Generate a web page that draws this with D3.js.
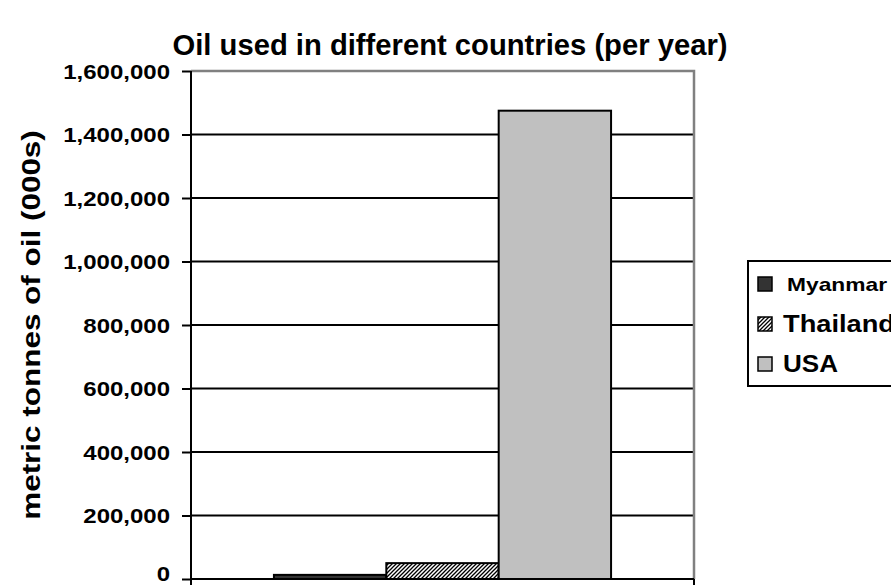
<!DOCTYPE html>
<html lang="en">
<head>
<meta charset="UTF-8" />
<title>Oil used in different countries</title>
<style>
	* { margin: 0; padding: 0; }
	body { background: #fff; font-family: 'Liberation Sans', Arial, sans-serif; }
	svg text { font-weight: bold; fill: #000; }
</style>
</head>
<body>
<svg id="chart" width="891" height="585"></svg>
<script src="https://cdnjs.cloudflare.com/ajax/libs/d3/7.8.5/d3.min.js"></script>
<script>
	// data (thousand metric tonnes per year)
	let countries = ['Myanmar', 'Thailand', 'USA'];
	let oilUsed = [13000, 50000, 1475000];
	let yTicks = [0, 200000, 400000, 600000, 800000, 1000000, 1200000, 1400000, 1600000];
	let category = [''];

	let svg = d3.select('#chart'),
		plotLeft = 191, plotRight = 694, plotTop = 71, plotBottom = 579;

	let y = d3.scaleLinear().domain([0, 1600000]).range([plotBottom, plotTop]);
	let x0 = d3.scaleBand().domain(category).range([plotLeft, plotRight]).paddingInner(0).paddingOuter(0.246);
	let x1 = d3.scaleBand().domain(countries).range([0, x0.bandwidth()]);

	// hatch for Thailand
	let defs = svg.append('defs');
	let pat = defs.append('pattern').attr('id', 'hatch')
		.attr('patternUnits', 'userSpaceOnUse').attr('width', 4).attr('height', 4);
	pat.append('rect').attr('width', 4).attr('height', 4).attr('fill', '#fff');
	pat.append('path').attr('d', 'M-1,1 l2,-2 M0,4 l4,-4 M3,5 l2,-2')
		.attr('stroke', '#000').attr('stroke-width', 1.3);

	let fills = { Myanmar: '#333333', Thailand: 'url(#hatch)', USA: '#c0c0c0' };

	// gridlines
	svg.append('g').selectAll('line')
		.data(yTicks.filter(d => d > 0 && d < 1600000))
		.enter().append('line')
		.attr('x1', plotLeft).attr('x2', plotRight)
		.attr('y1', d => y(d)).attr('y2', d => y(d))
		.attr('stroke', '#000').attr('stroke-width', 2);

	// grey top and right border of the plot area
	svg.append('path')
		.attr('d', `M${plotLeft},${y(1600000)} H${plotRight} V${plotBottom}`)
		.attr('fill', 'none').attr('stroke', '#808080').attr('stroke-width', 2.5);

	// bars
	svg.append('g').selectAll('rect')
		.data(countries)
		.enter().append('rect')
		.attr('x', (d) => x0('') + x1(d))
		.attr('width', x1.bandwidth())
		.attr('y', (d, i) => y(oilUsed[i]))
		.attr('height', (d, i) => y(0) - y(oilUsed[i]))
		.attr('fill', d => fills[d])
		.attr('stroke', '#000').attr('stroke-width', 2);

	// y axis
	let yAxis = svg.append('g')
		.attr('transform', `translate(${plotLeft},0)`)
		.call(d3.axisLeft(y).tickValues(yTicks).tickSize(9).tickFormat(d3.format(',')));
	yAxis.select('.domain').attr('stroke', '#000').attr('stroke-width', 2).attr('d', `M0,${plotTop}V${plotBottom + 6}`);
	yAxis.selectAll('.tick line').attr('stroke', '#000').attr('stroke-width', 2);
	yAxis.selectAll('.tick text')
		.style('font-family', "'Liberation Sans', Arial, sans-serif")
		.style('font-size', '20px').style('font-weight', 'bold')
		.attr('fill', '#000')
		.attr('transform', 'translate(-21,0) scale(1.2,1)')
		.attr('x', 0).attr('dy', d => d === 0 ? '0.05em' : '0.35em');

	// x axis line with category edge ticks
	svg.append('path')
		.attr('d', `M${plotLeft},${plotBottom}H${plotRight}M${plotRight},${plotBottom}v6`)
		.attr('fill', 'none').attr('stroke', '#000').attr('stroke-width', 2);

	// title
	svg.append('text')
		.attr('x', 450).attr('y', 55)
		.attr('text-anchor', 'middle')
		.style('font-size', '29px')
		.attr('textLength', 555).attr('lengthAdjust', 'spacingAndGlyphs')
		.text('Oil used in different countries (per year)');

	// y title
	svg.append('text')
		.attr('transform', 'translate(40,325) rotate(-90) scale(1.21,1)')
		.attr('text-anchor', 'middle')
		.style('font-size', '26px')
		.text('metric tonnes of oil (000s)');

	// legend
	let legend = svg.append('g');
	legend.append('rect')
		.attr('x', 748).attr('y', 261).attr('width', 160).attr('height', 125)
		.attr('fill', '#fff').attr('stroke', '#000').attr('stroke-width', 2);
	let legendY = d3.scalePoint().domain(countries).range([284, 364]);
	let item = legend.selectAll('.item').data(countries).enter().append('g')
		.attr('transform', d => `translate(758,${legendY(d)})`);
	item.append('rect')
		.attr('x', 0).attr('y', -7).attr('width', 14).attr('height', 14)
		.attr('fill', d => fills[d]).attr('stroke', '#000').attr('stroke-width', 1.5);
	item.append('text')
		.attr('x', d => d === 'Myanmar' ? 29 : 25).attr('dy', '0.36em')
		.style('font-size', d => d === 'Myanmar' ? '19px' : '23px')
		.attr('textLength', d => ({ Myanmar: 100, Thailand: 112, USA: 55 })[d])
		.attr('lengthAdjust', 'spacingAndGlyphs')
		.text(d => d);
</script>
</body>
</html>
